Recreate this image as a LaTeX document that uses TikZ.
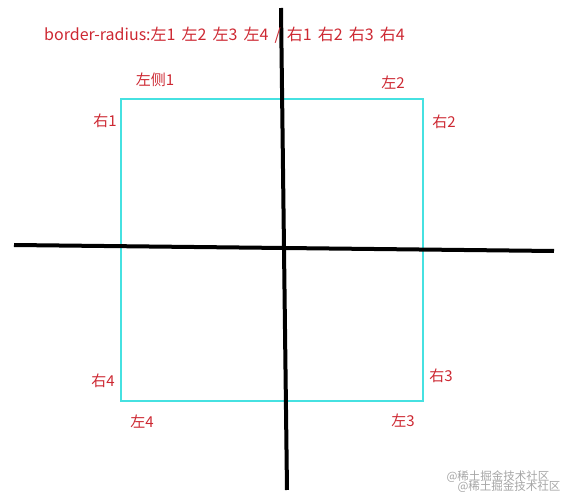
\documentclass[tikz,border=0pt]{standalone}
\usepackage{fontspec}
\setmainfont{Noto Sans CJK SC}
\newfontfamily\titlefont[WordSpace=1.7]{Noto Sans CJK SC}
\definecolor{labelred}{RGB}{205,40,50}
\definecolor{boxcyan}{RGB}{70,225,225}
\definecolor{markgray}{RGB}{165,165,165}
\tikzset{
  lbl/.style={text=labelred,font=\fontsize{15}{18}\selectfont,inner sep=0pt},
  axis/.style={black,line width=4pt},
  wmark/.style={text=markgray,font=\fontsize{11.5}{14}\selectfont,inner sep=0pt}
}
\begin{document}
\begin{tikzpicture}[x=1pt,y=-1pt]
\useasboundingbox (0,0) rectangle (566,497);

%box
\draw[boxcyan,line width=2.5pt] (121,99) rectangle (423,401);

%axes
\coordinate (hl) at (14,245);
\coordinate (hr) at (554,251);
\coordinate (vt) at (281,8);
\coordinate (vb) at (287,490);
\draw[axis] (hl) -- (hr);
\draw[axis] (vt) -- (vb);

%title
\node[lbl,anchor=west,font=\titlefont\fontsize{16}{19}\selectfont] (title) at (44,35) {border-radius:左1 左2 左3 左4 / 右1 右2 右3 右4};

%corner labels
\node[lbl] (l1) at (155,80) {左侧1};
\node[lbl] (l2) at (393,83) {左2};
\node[lbl] (l3) at (403,421) {左3};
\node[lbl] (l4) at (142,422) {左4};
\node[lbl] (r1) at (105,121) {右1};
\node[lbl] (r2) at (444,122) {右2};
\node[lbl] (r3) at (441,376) {右3};
\node[lbl] (r4) at (103,381) {右4};

%watermark
\node[wmark] (wm1) at (498,477) {@稀土掘金技术社区};
\node[wmark] (wm2) at (509,487) {@稀土掘金技术社区};
\end{tikzpicture}
\end{document}
